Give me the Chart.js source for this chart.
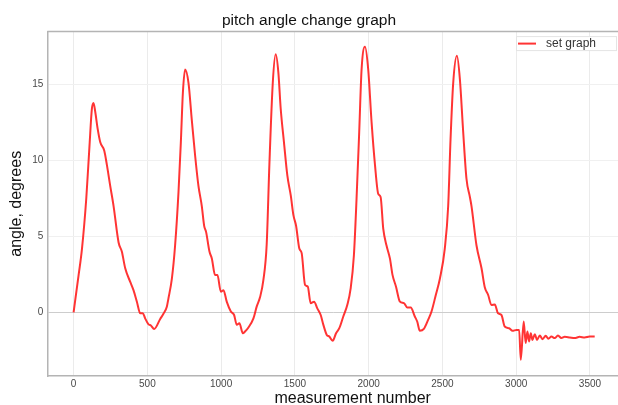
<!DOCTYPE html>
<html>
<head>
<meta charset="utf-8">
<title>pitch angle change graph</title>
<script src="https://cdn.jsdelivr.net/npm/chart.js@4.4.0/dist/chart.umd.min.js"></script>
<style>
    html, body { margin: 0; padding: 0; background: #fff; overflow: hidden; }
    #wrap { width: 618px; height: 405px; }
</style>
</head>
<body>
<div id="wrap"><canvas id="myChart" width="618" height="405"></canvas></div>
<script>
// values
const measurementNumbers = [
    0, 34, 57, 86, 108, 124, 135, 147, 163, 181, 208, 226, 248, 271, 305, 327, 350, 384, 406, 429,
    452, 470, 485, 508, 524, 546, 587, 609, 632, 643, 666, 688, 711, 727, 741, 756, 779, 801, 824, 846,
    869, 885, 898, 921, 937, 959, 975, 998, 1016, 1038, 1066, 1088, 1106, 1124, 1147, 1162, 1185, 1219, 1241, 1264,
    1286, 1309, 1327, 1350, 1370, 1388, 1404, 1426, 1449, 1472, 1490, 1508, 1530, 1546, 1569, 1587, 1607, 1630, 1652, 1675,
    1693, 1716, 1733, 1756, 1779, 1801, 1828, 1855, 1878, 1900, 1918, 1936, 1952, 1975, 1997, 2020, 2043, 2065, 2081, 2099,
    2121, 2144, 2162, 2185, 2212, 2239, 2262, 2285, 2313, 2329, 2347, 2374, 2403, 2426, 2455, 2483, 2516, 2539, 2555, 2573,
    2598, 2618, 2640, 2663, 2686, 2697, 2731, 2765, 2787, 2810, 2832, 2855, 2877, 2900, 2922, 2952, 2975, 3002, 3020, 3031,
    3051, 3064, 3076, 3087, 3099, 3110, 3126, 3141, 3160, 3178, 3200, 3218, 3239, 3261, 3283, 3306, 3329, 3363, 3396, 3430,
    3464, 3498, 3532
];
const pitchAngles = [
    0, 2.45, 4.2, 7.5, 11, 13.4, 13.8, 13.2, 12.1, 11.2, 10.65, 9.7, 8.35, 7.0, 4.6, 4.0, 2.9, 2.0, 1.46, 0.7,
    -0.07, -0.07, -0.4, -0.8, -0.87, -1.1, -0.44, -0.1, 0.37, 0.92, 2.2, 4.4, 7.9, 11.2, 14.5, 16.0, 15.1, 12.7, 10.3, 8.35,
    7.0, 5.7, 5.3, 4.0, 3.55, 2.45, 2.45, 1.36, 1.46, 0.7, 0.05, -0.18, -0.83, -0.72, -1.38, -1.27, -1.0, -0.4, 0.37, 1.0,
    2.1, 4.5, 9.7, 15.1, 17.0, 15.8, 13.4, 11.2, 9.0, 7.7, 6.4, 5.7, 4.2, 3.9, 1.8, 1.7, 0.6, 0.7, 0.26, -0.18,
    -0.83, -1.49, -1.6, -1.88, -1.38, -1.05, -0.28, 0.48, 1.57, 3.76, 7.5, 11.9, 16.0, 17.5, 16.0, 12.5, 9.7, 7.8, 7.6, 5.5,
    4.4, 3.55, 2.45, 1.7, 0.7, 0.6, 0.31, 0.31, -0.28, -0.61, -1.22, -1.1, -0.5, 0.05, 1.14, 2.23, 4.2, 7.0, 11.4, 15.1,
    16.9, 15.4, 12.0, 8.8, 7.6, 7.0, 4.4, 2.9, 1.65, 1.14, 0.48, 0.52, -0.07, -0.18, -0.94, -1.05, -1.22, -1.16, -1.16, -3.13,
    -0.61, -2.03, -1.27, -1.92, -1.38, -1.82, -1.44, -1.82, -1.53, -1.77, -1.55, -1.75, -1.6, -1.7, -1.53, -1.7, -1.62, -1.66, -1.7, -1.62,
    -1.66, -1.6, -1.6
];
const xTicks = [0, 500, 1000, 1500, 2000, 2500, 3000, 3500];
const yTicks = [0, 5, 10, 15];

const seriesName = "set graph";
const chartTitle = "pitch angle change graph";
const xTitle = "measurement number";
const yTitle = "angle, degrees";

const fontFamily = "'Liberation Sans', Arial, sans-serif";
const lineColor = "rgba(255, 30, 30, 0.9)";
const frameColor = "#b4b4b4";

// top frame line, legend box inside the plot, x axis title
const plotExtras = {
    id: "plotExtras",
    afterDraw(chart) {
        const ctx = chart.ctx;
        const area = chart.chartArea;
        ctx.save();

        ctx.strokeStyle = frameColor;
        ctx.lineWidth = 1.5;
        ctx.beginPath();
        ctx.moveTo(area.left, area.top);
        ctx.lineTo(area.right, area.top);
        ctx.stroke();

        const ds = chart.data.datasets[0];
        const boxW = 100, boxH = 14;
        const bx = area.right - boxW - 2;
        const by = area.top + 4.5;
        ctx.fillStyle = "#fff";
        ctx.fillRect(bx, by, boxW, boxH);
        ctx.strokeStyle = "#e4e4e4";
        ctx.lineWidth = 1;
        ctx.strokeRect(bx + 0.5, by + 0.5, boxW, boxH);

        ctx.strokeStyle = ds.borderColor;
        ctx.lineWidth = 2;
        ctx.beginPath();
        ctx.moveTo(bx + 2, by + boxH / 2 + 0.5);
        ctx.lineTo(bx + 20, by + boxH / 2 + 0.5);
        ctx.stroke();

        ctx.fillStyle = "#333";
        ctx.font = "12px " + fontFamily;
        ctx.textAlign = "left";
        ctx.textBaseline = "middle";
        ctx.fillText(ds.label, bx + 30, by + boxH / 2 + 1);

        ctx.fillStyle = "#111";
        ctx.font = "16px " + fontFamily;
        ctx.textAlign = "center";
        ctx.textBaseline = "alphabetic";
        ctx.fillText(xTitle, (area.left + area.right) / 2 + 20, 403);

        ctx.restore();
    }
};

function drawChart() {
    const points = measurementNumbers.map((x, i) => ({ x: x, y: pitchAngles[i] }));
    const ctx = document.getElementById("myChart").getContext("2d");

    new Chart(ctx, {
        type: "line",
        data: {
            datasets: [{
                label: seriesName,
                data: points,
                borderColor: lineColor,
                borderWidth: 2,
                pointRadius: 0,
                cubicInterpolationMode: "monotone",
                fill: false
            }]
        },
        options: {
            responsive: false,
            animation: false,
            layout: { padding: { left: 0, right: 0, top: 0, bottom: 13 } },
            plugins: {
                legend: { display: false },
                tooltip: { enabled: false },
                title: {
                    display: true,
                    text: chartTitle,
                    color: "#111",
                    font: { family: fontFamily, size: 15.5, weight: "normal" },
                    padding: { top: 11, bottom: 2 }
                }
            },
            scales: {
                x: {
                    type: "linear",
                    min: -178,
                    max: 3690,
                    afterBuildTicks: axis => { axis.ticks = xTicks.map(v => ({ value: v })); },
                    grid: { color: "#ebebeb", lineWidth: 1, drawTicks: false },
                    border: { color: frameColor, width: 1.5 },
                    ticks: {
                        padding: 2,
                        color: "#484848",
                        font: { family: fontFamily, size: 10 },
                        callback: v => String(v)
                    },
                    title: { display: false }
                },
                y: {
                    type: "linear",
                    min: -4.2,
                    max: 18.5,
                    afterBuildTicks: axis => { axis.ticks = yTicks.map(v => ({ value: v })); },
                    grid: {
                        color: c => (c.tick && c.tick.value === 0) ? "#cdcdcd" : "#f0f0f0",
                        lineWidth: 1,
                        drawTicks: false
                    },
                    border: { color: frameColor, width: 1.5 },
                    ticks: {
                        padding: 4,
                        color: "#484848",
                        font: { family: fontFamily, size: 10 },
                        callback: v => String(v)
                    },
                    title: {
                        display: true,
                        text: yTitle,
                        color: "#111",
                        font: { family: fontFamily, size: 16 },
                        padding: { top: 7, bottom: 2 }
                    }
                }
            }
        },
        plugins: [plotExtras]
    });
}

document.addEventListener("DOMContentLoaded", function () {
    drawChart();
});
</script>
</body>
</html>
